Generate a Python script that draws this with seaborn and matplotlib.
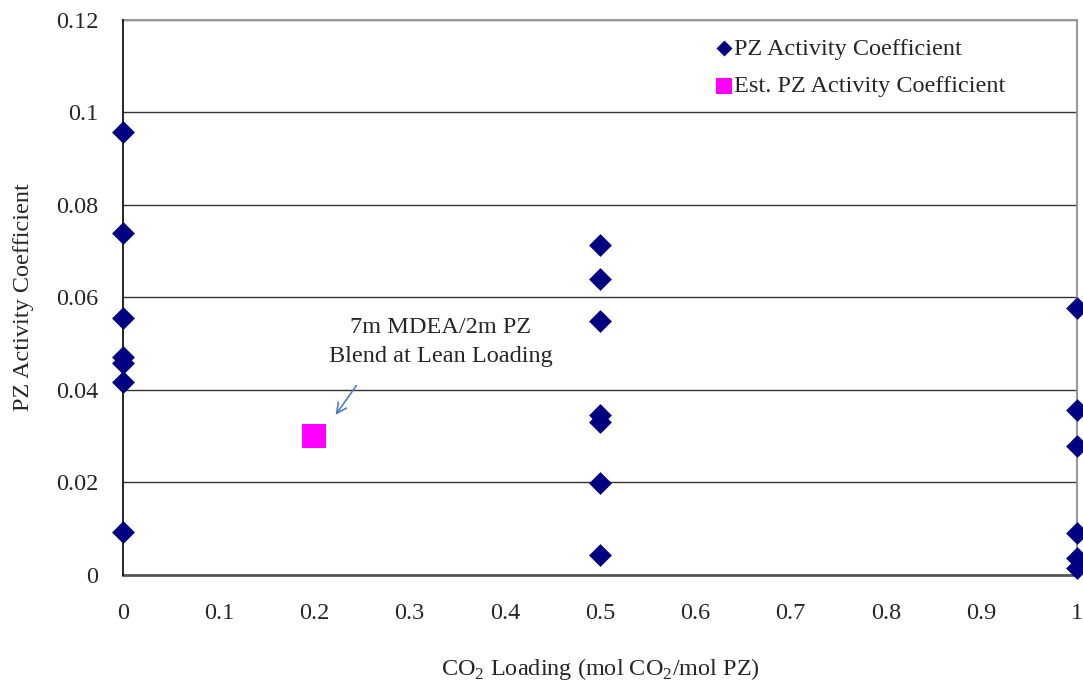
import numpy as np
import pandas as pd
import matplotlib
matplotlib.use("Agg")
import matplotlib.pyplot as plt
import seaborn as sns

# measured PZ activity coefficients at three loadings
loading = [0, 0, 0, 0, 0, 0, 0,
           0.5, 0.5, 0.5, 0.5, 0.5, 0.5, 0.5,
           1, 1, 1, 1, 1, 1]
gamma_pz = [0.0957, 0.0738, 0.0555, 0.0471, 0.0458, 0.0417, 0.0093,
            0.0712, 0.0639, 0.0548, 0.0345, 0.0330, 0.0199, 0.0043,
            0.0576, 0.0356, 0.0278, 0.0091, 0.0037, 0.0016]

# estimated point for the blend
est_loading = [0.2]
est_gamma = [0.030]

xticks = [0, 0.1, 0.2, 0.3, 0.4, 0.5, 0.6, 0.7, 0.8, 0.9, 1]
xticklabels = ["0", "0.1", "0.2", "0.3", "0.4", "0.5", "0.6", "0.7", "0.8", "0.9", "1"]
yticks = [0, 0.02, 0.04, 0.06, 0.08, 0.1, 0.12]
yticklabels = ["0", "0.02", "0.04", "0.06", "0.08", "0.1", "0.12"]

df = pd.DataFrame({"loading": loading, "gamma": gamma_pz})
df_est = pd.DataFrame({"loading": est_loading, "gamma": est_gamma})

sns.set_style("white")
plt.rcParams["font.family"] = ["Liberation Serif", "DejaVu Serif"]
plt.rcParams["mathtext.fontset"] = "custom"
plt.rcParams["mathtext.rm"] = "Liberation Serif"
fs = 17.5

fig = plt.figure(figsize=(10.83, 6.83), dpi=100)
ax = fig.add_axes([0.114, 0.1581, 0.8802, 0.8133])

sns.scatterplot(data=df, x="loading", y="gamma", marker="D", s=135,
                color="#000080", linewidth=0, ax=ax, clip_on=False,
                label="PZ Activity Coefficient", zorder=4)
sns.scatterplot(data=df_est, x="loading", y="gamma", marker="s", s=275,
                color="#FF00FF", linewidth=0, ax=ax, clip_on=False,
                label="Est. PZ Activity Coefficient", zorder=4)

ax.set_xlim(0, 1)
ax.set_ylim(0, 0.12)
ax.set_xticks(xticks)
ax.set_xticklabels(xticklabels, fontsize=fs)
ax.set_yticks(yticks)
ax.set_yticklabels(yticklabels, fontsize=fs)
ax.tick_params(axis="x", direction="out", length=6, width=1, color="#555555", pad=14)
ax.tick_params(axis="y", direction="out", length=6, width=1, color="black", pad=12)
ax.yaxis.grid(True, color="#333333", linewidth=1)
ax.xaxis.grid(False)
ax.set_axisbelow(True)

for side in ["top", "right"]:
    ax.spines[side].set_color("#999999")
    ax.spines[side].set_linewidth(1.5)
ax.spines["left"].set_color("black")
ax.spines["left"].set_linewidth(1.2)
ax.spines["bottom"].set_color("#555555")
ax.spines["bottom"].set_linewidth(2)
ax.spines["left"].set_zorder(3)

ax.set_xlabel("CO$_2$ Loading (mol CO$_2$/mol PZ)", fontsize=fs, labelpad=23)
ax.set_ylabel("PZ Activity Coefficient", fontsize=fs, labelpad=16)

# annotation for the estimated blend point
ax.annotate("", xy=(0.2208, 0.0341), xytext=(0.246, 0.0414),
            arrowprops=dict(arrowstyle="->", color="#4a7ebb", lw=1.2,
                            mutation_scale=18))
ax.text(0.333, 0.0503, "7m MDEA/2m PZ\nBlend at Lean Loading", fontsize=fs,
        ha="center", va="center", linespacing=1.5)

leg = ax.legend(loc="upper left", bbox_to_anchor=(0.613, 0.985), frameon=False,
                fontsize=fs, handlelength=0.55, handletextpad=0.12,
                labelspacing=0.65, markerscale=0.7, borderaxespad=0)

fig.savefig("out.png", dpi=100)
